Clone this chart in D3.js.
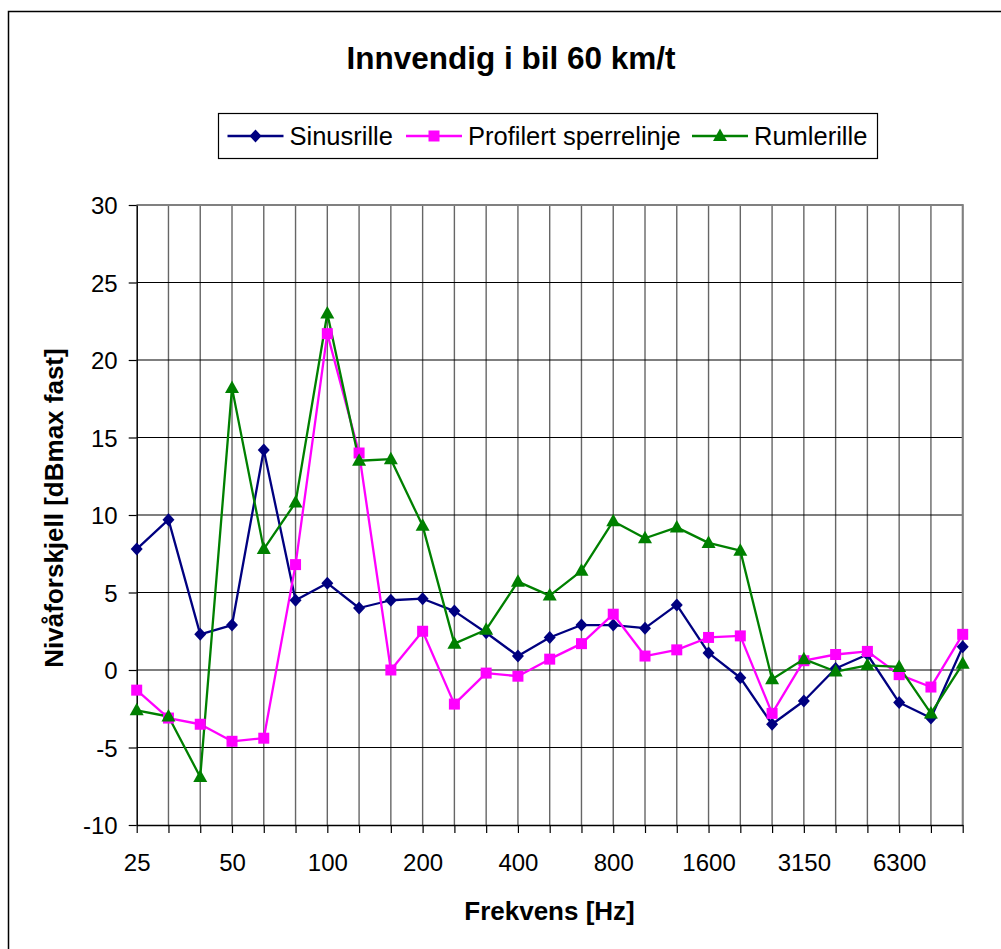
<!DOCTYPE html>
<html>
<head>
<meta charset="utf-8">
<script src="https://cdn.jsdelivr.net/npm/d3@7"></script>
<style>
  html, body { margin: 0; padding: 0; background: #fff; }
  svg { display: block; font-family: Arial, "Liberation Sans", sans-serif; }
</style>
</head>
<body>
<svg id="chart" width="1001" height="949"></svg>
<script>
// Third-octave band centre frequencies (Hz)
const categories = ["25", "31.5", "40", "50", "63", "80", "100", "125", "160", "200", "250", "315",
  "400", "500", "630", "800", "1000", "1250", "1600", "2000", "2500", "3150", "4000", "5000",
  "6300", "8000", "10000"];

// Level difference, dBmax fast
const sinusrille = [7.8, 9.7, 2.3, 2.9, 14.2, 4.5, 5.6, 4.0, 4.5, 4.6, 3.8, 2.4, 0.9, 2.1, 2.9,
  2.9, 2.7, 4.2, 1.1, -0.5, -3.5, -2.0, 0.1, 1.0, -2.1, -3.1, 1.5];
const profilertSperrelinje = [-1.3, -3.1, -3.5, -4.6, -4.4, 6.8, 21.7, 14.0, 0.0, 2.5, -2.2, -0.2,
  -0.4, 0.7, 1.7, 3.6, 0.9, 1.3, 2.1, 2.2, -2.8, 0.6, 1.0, 1.2, -0.3, -1.1, 2.3];
const rumlerille = [-2.6, -3.0, -6.9, 18.2, 7.8, 10.8, 23.0, 13.5, 13.6, 9.3, 1.7, 2.6, 5.7, 4.8,
  6.4, 9.6, 8.5, 9.2, 8.2, 7.7, -0.6, 0.7, -0.1, 0.3, 0.2, -2.8, 0.4];

const yTicks = [-10, -5, 0, 5, 10, 15, 20, 25, 30];
const xTickLabels = ["25", "50", "100", "200", "400", "800", "1600", "3150", "6300"];

const seriesNames = ["Sinusrille", "Profilert sperrelinje", "Rumlerille"];
const seriesColors = ["#000080", "#FF00FF", "#008000"];

// Marker shapes (centred on 0,0)
const markerPaths = {
  diamond: "M0,-6.5L6,0L0,6.5L-6,0Z",
  square: "M-5.5,-5.5H5.5V5.5H-5.5Z",
  triangle: "M0,-7.5L7,5L-7,5Z"
};
const seriesMarkers = ["diamond", "square", "triangle"];

const series = [sinusrille, profilertSperrelinje, rumlerille].map((values, i) => ({
  name: seriesNames[i], color: seriesColors[i], marker: markerPaths[seriesMarkers[i]], values
}));

const svg = d3.select("#chart");
const FONT = "Arial, 'Liberation Sans', sans-serif";

// Outer chart frame
svg.append("rect")
  .attr("x", 8.5).attr("y", 11.5).attr("width", 1010).attr("height", 1010)
  .attr("fill", "#fff").attr("stroke", "#000").attr("stroke-width", 1.5);

const plot = { left: 136.7, right: 962.7, top: 205, bottom: 825 };

const x = d3.scalePoint().domain(categories).range([plot.left, plot.right]);
const y = d3.scaleLinear().domain([-10, 30]).range([plot.bottom, plot.top]);

// Vertical gridlines
svg.append("g").selectAll("line").data(categories.slice(1)).join("line")
  .attr("x1", d => x(d)).attr("x2", d => x(d))
  .attr("y1", plot.top).attr("y2", plot.bottom)
  .attr("stroke", "#666").attr("stroke-width", 1.4);

// Horizontal gridlines
svg.append("g").selectAll("line").data(yTicks.slice(1)).join("line")
  .attr("x1", plot.left).attr("x2", plot.right)
  .attr("y1", d => y(d)).attr("y2", d => y(d))
  .attr("stroke", "#000").attr("stroke-width", 1.1);

// Plot area border (top & right)
svg.append("path")
  .attr("d", `M${plot.left},${plot.top}H${plot.right}V${plot.bottom}`)
  .attr("fill", "none").attr("stroke", "#808080").attr("stroke-width", 2);

// Y axis (plain hyphen for negative numbers)
const yAxis = svg.append("g")
  .attr("transform", `translate(${plot.left},0)`)
  .call(d3.axisLeft(y).tickValues(yTicks).tickFormat(d => String(d))
    .tickSize(8).tickPadding(12).tickSizeOuter(0));
yAxis.select(".domain").attr("stroke", "#000").attr("stroke-width", 1.5);
yAxis.selectAll(".tick line").attr("stroke", "#000").attr("stroke-width", 1.2);
yAxis.selectAll(".tick text").attr("font-size", 24).attr("fill", "#000")
  .attr("font-family", FONT).attr("x", -19).attr("dy", "0.36em");

// X axis
const xAxis = svg.append("g")
  .attr("transform", `translate(0,${plot.bottom})`)
  .call(d3.axisBottom(x).tickSize(8).tickSizeOuter(0)
    .tickFormat(d => xTickLabels.includes(d) && categories.indexOf(d) % 3 === 0 ? d : ""));
xAxis.select(".domain").attr("stroke", "#000").attr("stroke-width", 1.5);
xAxis.selectAll(".tick line").attr("stroke", "#000").attr("stroke-width", 1.2);
xAxis.selectAll(".tick text").attr("font-size", 24).attr("fill", "#000")
  .attr("font-family", FONT).attr("y", 46).attr("dy", 0);

// Series lines and markers
const line = d3.line().x((d, i) => x(categories[i])).y(d => y(d));
series.forEach(s => {
  svg.append("path").datum(s.values)
    .attr("d", line).attr("fill", "none")
    .attr("stroke", s.color).attr("stroke-width", 2.3).attr("stroke-linejoin", "round");
});
series.forEach(s => {
  svg.append("g").selectAll("path").data(s.values).join("path")
    .attr("transform", (d, i) => `translate(${x(categories[i])},${y(d)})`)
    .attr("d", s.marker)
    .attr("fill", s.color);
});

// Title
svg.append("text")
  .attr("x", 511).attr("y", 69).attr("text-anchor", "middle")
  .attr("font-size", 31.5).attr("font-weight", "bold").text("Innvendig i bil 60 km/t");

// Axis titles
svg.append("text")
  .attr("x", 549.5).attr("y", 920).attr("text-anchor", "middle")
  .attr("font-size", 26).attr("font-weight", "bold").text("Frekvens [Hz]");
svg.append("text")
  .attr("transform", "translate(63,508) rotate(-90)").attr("text-anchor", "middle")
  .attr("font-size", 26).attr("font-weight", "bold").text("Nivåforskjell [dBmax fast]");

// Legend
const legend = svg.append("g");
legend.append("rect")
  .attr("x", 218.5).attr("y", 113.5).attr("width", 659).attr("height", 45)
  .attr("fill", "#fff").attr("stroke", "#000").attr("stroke-width", 1.2);
const legendX = [227.5, 406, 692];
series.forEach((s, i) => {
  const g = legend.append("g").attr("transform", `translate(${legendX[i]},136)`);
  g.append("line").attr("x1", 0).attr("x2", 56).attr("stroke", s.color).attr("stroke-width", 2.3);
  g.append("path").attr("transform", "translate(28,0)").attr("d", s.marker).attr("fill", s.color);
  g.append("text").attr("x", 62).attr("y", 9).attr("font-size", 25.5).text(s.name);
});
</script>
</body>
</html>
